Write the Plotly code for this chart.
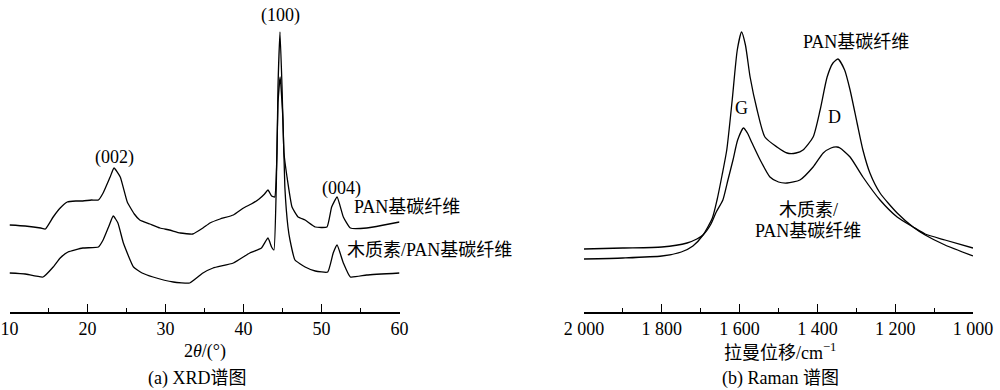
import plotly.graph_objects as go

# ---- XRD data (2theta, intensity a.u.) ----
xrd_2theta_pan = [10.0, 12.0, 14.0, 14.6, 15.6, 16.5, 17.4, 18.5, 19.4, 20.5, 21.4, 22.0, 22.9, 23.4, 24.2, 25.1,
                  26.0, 26.7, 28.0, 29.3, 30.5, 31.9, 33.5, 34.8, 35.7, 37.0, 38.7, 40.0, 41.0, 42.0, 42.7, 43.14,
                  43.6, 44.0, 44.29, 44.42, 44.68, 44.94, 45.19, 45.58, 46.22, 47.0, 47.9, 49.2, 50.7, 51.3, 52.0,
                  52.8, 53.7, 55.8, 58.0, 60.0]
xrd_int_pan = [87, 86, 84, 83, 95, 104, 110, 111, 111, 112, 112, 119, 135, 144, 135, 110,
               98, 92, 88, 84, 82, 79, 78, 84, 89, 93, 97, 104, 108, 113, 118, 122,
               116, 115, 159, 225, 280, 225, 159, 135, 105, 95, 92, 85, 85, 105, 115,
               95, 84, 84, 87, 90]

xrd_2theta_lig = [10.0, 12.0, 14.3, 15.6, 16.5, 17.5, 19.4, 21.4, 22.0, 22.7, 23.3, 23.9, 24.6, 25.9, 27.0, 28.4,
                  31.0, 33.1, 34.8, 36.1, 38.7, 40.8, 42.3, 43.14, 43.6, 43.9, 44.2, 44.42, 44.7, 45.06, 45.3,
                  45.7, 45.96, 46.6, 47.9, 49.2, 50.8, 51.5, 52.0, 52.8, 53.7, 55.8, 60.0]
xrd_int_lig = [39, 38, 35, 45, 54, 60, 64, 65, 72, 85, 96, 89, 69, 45, 39, 35,
               30, 29, 39, 44, 49, 59, 64, 74, 65, 62, 125, 209, 235, 192, 125,
               85, 72, 52, 45, 41, 40, 59, 67, 49, 35, 37, 39]

xrd_ticks = [10, 20, 30, 40, 50, 60]

# ---- Raman data (wavenumber cm-1, intensity a.u.) ----
raman_wn_pan = [2000, 1900, 1800, 1750, 1720, 1694, 1670, 1658, 1645, 1633, 1619, 1606, 1595, 1585, 1573, 1555,
                1535, 1504, 1478, 1455, 1437, 1411, 1393, 1375, 1360, 1347, 1330, 1316, 1298, 1283, 1265, 1239,
                1195, 1154, 1123, 1072, 1000]
raman_int_pan = [53, 54, 56, 60, 66, 77, 94, 112, 137, 162, 212, 262, 280, 267, 235, 202,
                 175, 165, 159, 159, 162, 175, 202, 235, 249, 253, 242, 222, 189, 162, 139, 119,
                 99, 85, 77, 67, 56]

raman_wn_lig = [2000, 1900, 1800, 1735, 1710, 1694, 1675, 1660, 1643, 1630, 1617, 1605, 1590, 1580, 1568, 1547,
                1522, 1500, 1478, 1445, 1411, 1385, 1365, 1350, 1342, 1316, 1283, 1239, 1195, 1154, 1123, 1072,
                1000]
raman_int_lig = [63, 64, 65, 69, 73, 77, 87, 100, 112, 132, 152, 172, 184, 179, 169, 152,
                 135, 130, 129, 132, 145, 159, 164, 165, 164, 155, 135, 112, 95, 85, 78, 72,
                 64]

raman_ticks = [2000, 1800, 1600, 1400, 1200, 1000]
raman_ticktext = ["2 000", "1 800", "1 600", "1 400", "1 200", "1 000"]

FONT = "Liberation Serif, Times New Roman, Noto Sans CJK SC, serif"
line_style = dict(color="black", width=1.3)

fig = go.Figure()
fig.add_trace(go.Scatter(x=xrd_2theta_pan, y=xrd_int_pan, mode="lines", line=dict(**line_style, shape="spline", smoothing=0.4),
                         xaxis="x", yaxis="y", showlegend=False))
fig.add_trace(go.Scatter(x=xrd_2theta_lig, y=xrd_int_lig, mode="lines", line=dict(**line_style, shape="spline", smoothing=0.4),
                         xaxis="x", yaxis="y", showlegend=False))
fig.add_trace(go.Scatter(x=raman_wn_pan, y=raman_int_pan, mode="lines", line=dict(**line_style, shape="spline", smoothing=0.6),
                         xaxis="x2", yaxis="y2", showlegend=False))
fig.add_trace(go.Scatter(x=raman_wn_lig, y=raman_int_lig, mode="lines", line=dict(**line_style, shape="spline", smoothing=0.6),
                         xaxis="x2", yaxis="y2", showlegend=False))

axis_common = dict(showline=True, linecolor="black", linewidth=1.5, ticks="inside", ticklen=8, tickwidth=1.2,
                   tickcolor="black", showgrid=False, zeroline=False, automargin=False,
                   tickfont=dict(family=FONT, size=18, color="black"))

fig.update_layout(
    width=1000, height=390,
    margin=dict(l=0, r=0, t=0, b=78),
    paper_bgcolor="white", plot_bgcolor="white",
    xaxis=dict(domain=[0.0095, 0.3995], range=[10, 60], tickvals=xrd_ticks,
               minor=dict(dtick=5, ticks="inside", ticklen=4, tickcolor="black", tickwidth=1.2),
               anchor="y", **axis_common),
    yaxis=dict(domain=[0, 1], range=[0, 312], visible=False, anchor="x"),
    xaxis2=dict(domain=[0.584, 0.973], range=[2000, 1000], tickvals=raman_ticks, ticktext=raman_ticktext,
                minor=dict(tickvals=[1900, 1700, 1500, 1300, 1100], ticks="inside", ticklen=4,
                           tickcolor="black", tickwidth=1.2),
                anchor="y2", **axis_common),
    yaxis2=dict(domain=[0, 1], range=[0, 312], visible=False, anchor="x2"),
)

def ann(text, x, y, xref, yref, size=18, xanchor="center"):
    fig.add_annotation(text=text, x=x, y=y, xref=xref, yref=yref, showarrow=False,
                       xanchor=xanchor, yanchor="middle",
                       font=dict(family=FONT, size=size, color="black"))

# XRD labels (data coords)
ann("(100)", 44.7, 297, "x", "y", size=18)
ann("(002)", 23.4, 155, "x", "y", size=18)
ann("(004)", 52.6, 124, "x", "y", size=18)
ann("PAN基碳纤维", 53.9, 105, "x", "y", xanchor="left")
ann("木质素/PAN基碳纤维", 53.0, 62, "x", "y", xanchor="left")

# Raman labels
ann("G", 1595, 204, "x2", "y2")
ann("D", 1355, 195, "x2", "y2")
ann("PAN基碳纤维", 1301, 270, "x2", "y2")
ann("木质素/", 1424, 102, "x2", "y2")
ann("PAN基碳纤维", 1424, 81, "x2", "y2")

# Axis titles and captions (paper coords; paper y=0 at axis line, 1 at top)
def py(p):
    return (312 - p) / 312.0

ann("2<i>θ</i>/(°)", 0.205, py(351), "paper", "paper")
ann("(a) XRD谱图", 0.197, py(378), "paper", "paper")
ann("拉曼位移/cm<sup>−1</sup>", 0.780, py(351), "paper", "paper")
ann("(b) Raman 谱图", 0.780, py(378), "paper", "paper")

fig.write_html("out.html")
